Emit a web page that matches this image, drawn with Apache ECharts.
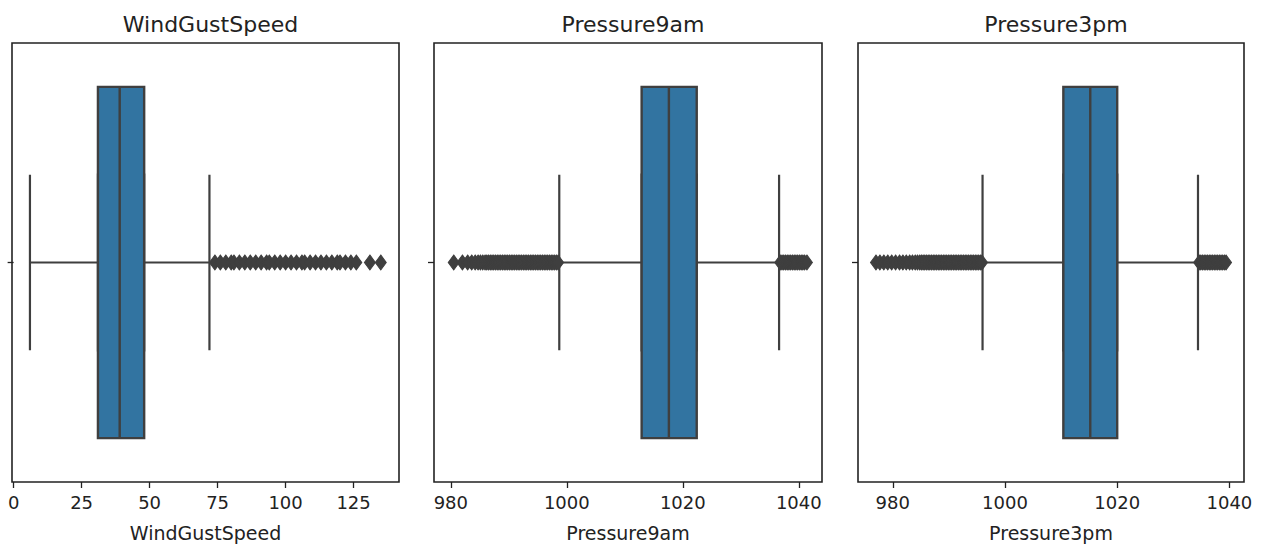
<!DOCTYPE html>
<html>
<head>
<meta charset="utf-8">
<script src="https://cdn.jsdelivr.net/npm/echarts@6/dist/echarts.min.js"></script>
<style>
  html, body { margin: 0; padding: 0; background: #fff; }
  #chart { width: 1263px; height: 547px; }
</style>
</head>
<body>
<div id="chart"></div>
<script>
// --- data ---
var titles = ['WindGustSpeed', 'Pressure9am', 'Pressure3pm'];

// [lower whisker, Q1, median, Q3, upper whisker]
var windStats = [6, 31, 39, 48, 72];
var p9Stats = [998.7, 1012.9, 1017.6, 1022.4, 1036.6];
var p3Stats = [996.0, 1010.4, 1015.2, 1020.0, 1034.4];

var windOutliers = [74, 76, 78, 80, 81, 83, 85, 87, 89, 91, 93, 94, 96, 98, 100, 102,
  104, 106, 107, 109, 111, 113, 115, 117, 119, 120, 122, 124, 126, 131, 135];
var p9Outliers = [980.5, 982.0, 982.9, 983.6, 984.2, 984.7, 985.1, 985.5, 985.9, 986.2,
  986.5, 986.8, 987.1, 987.4, 987.7, 988.0, 988.3, 988.6, 988.9, 989.2, 989.5, 989.8,
  990.1, 990.4, 990.7, 991.0, 991.3, 991.6, 991.9, 992.2, 992.5, 992.8, 993.1, 993.4,
  993.7, 994.0, 994.3, 994.6, 994.9, 995.2, 995.5, 995.8, 996.1, 996.4, 996.7, 997.0,
  997.3, 997.6, 997.9, 998.2, 998.5,
  1036.8, 1037.1, 1037.4, 1037.7, 1038.0, 1038.3, 1038.6, 1038.9, 1039.2, 1039.5,
  1039.8, 1040.1, 1040.4, 1040.7, 1041.0, 1041.4];
var p3Outliers = [977.0, 977.7, 978.4, 979.1, 979.8, 980.5, 981.2, 981.8, 982.4, 983.0,
  983.5, 984.0, 984.4, 984.8, 985.1, 985.4, 985.7, 986.0, 986.3, 986.6, 986.9, 987.2,
  987.5, 987.8, 988.1, 988.4, 988.7, 989.0, 989.3, 989.6, 989.9, 990.2, 990.5, 990.8,
  991.1, 991.4, 991.7, 992.0, 992.3, 992.6, 992.9, 993.2, 993.5, 993.8, 994.1, 994.4,
  994.7, 995.0, 995.3, 995.6, 995.9,
  1034.6, 1034.9, 1035.2, 1035.5, 1035.8, 1036.1, 1036.4, 1036.7, 1037.0, 1037.3,
  1037.6, 1037.9, 1038.2, 1038.5, 1038.8, 1039.1, 1039.4];

var windTicks = [0, 25, 50, 75, 100, 125];
var pressTicks = [980, 1000, 1020, 1040];

(function() {
  var ink = '#222';
  var edge = '#3f3f3f';
  var boxFill = '#3274a1';
  var font = 'DejaVu Sans';

  var chart = echarts.init(document.getElementById('chart'), null, { renderer: 'svg' });

  var panels = [
    { stats: windStats, outliers: windOutliers, ticks: windTicks, min: -0.6, max: 141.7, left: 12, width: 387 },
    { stats: p9Stats, outliers: p9Outliers, ticks: pressTicks, min: 977.1, max: 1044.0, left: 434, width: 388 },
    { stats: p3Stats, outliers: p3Outliers, ticks: pressTicks, min: 973.8, max: 1042.6, left: 858, width: 386 }
  ];

  var grid = [], xAxis = [], yAxis = [], series = [], title = [];

  panels.forEach(function(p, i) {
    grid.push({
      left: p.left, top: 43, width: p.width, height: 442,
      show: true, borderColor: ink, borderWidth: 1.6, backgroundColor: '#fff'
    });
    title.push({
      text: titles[i], left: p.left + p.width / 2, top: 8, textAlign: 'center',
      textStyle: { fontFamily: font, fontSize: 22, fontWeight: 'normal', color: ink }
    });
    xAxis.push({
      type: 'value', gridIndex: i, min: p.min, max: p.max,
      name: titles[i], nameLocation: 'middle', nameGap: 41,
      nameTextStyle: { fontFamily: font, fontSize: 19, color: ink },
      axisLine: { show: false },
      splitLine: { show: false },
      axisTick: { show: true, length: 6, lineStyle: { color: ink, width: 1.3 }, customValues: p.ticks },
      axisLabel: {
        fontFamily: font, fontSize: 18, color: ink, margin: 11, customValues: p.ticks,
        formatter: function(v) { return String(v); }
      }
    });
    // category axis for the whiskers and outliers, and a hidden twin for the wide box
    yAxis.push({
      type: 'category', gridIndex: i, data: [''],
      axisLine: { show: false },
      axisTick: { show: true, alignWithLabel: true, length: 6, lineStyle: { color: ink, width: 1.3 } },
      axisLabel: { show: false }
    });
    yAxis.push({
      type: 'category', gridIndex: i, data: [''], show: false
    });
    var s = p.stats;
    // whiskers with half-width caps
    series.push({
      type: 'boxplot', xAxisIndex: i, yAxisIndex: i * 2,
      boxWidth: ['40%', '40%'],
      itemStyle: { color: boxFill, borderColor: edge, borderWidth: 2.2 },
      data: [s.slice()], z: 2
    });
    // the box itself, 80% of the band
    series.push({
      type: 'boxplot', xAxisIndex: i, yAxisIndex: i * 2 + 1,
      boxWidth: ['80%', '80%'],
      itemStyle: { color: boxFill, borderColor: edge, borderWidth: 2.4 },
      data: [[s[1], s[1], s[2], s[3], s[3]]], z: 3
    });
    series.push({
      type: 'scatter', xAxisIndex: i, yAxisIndex: i * 2,
      symbol: 'diamond', symbolSize: [11, 15],
      itemStyle: { color: edge, borderColor: edge, borderWidth: 1, opacity: 1 },
      data: p.outliers.map(function(v) { return [v, 0]; }), z: 4
    });
  });

  chart.setOption({
    animation: false,
    title: title,
    grid: grid,
    xAxis: xAxis,
    yAxis: yAxis,
    series: series
  });
})();
</script>
</body>
</html>
